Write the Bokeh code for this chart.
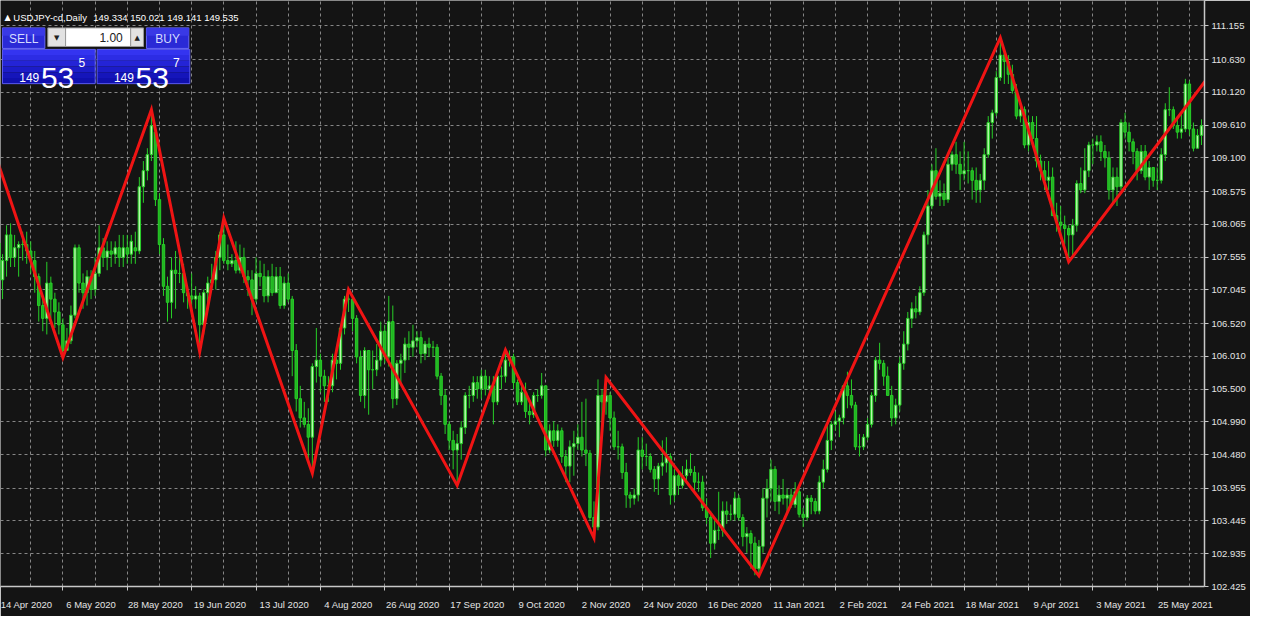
from bokeh.plotting import figure
from bokeh.models import FixedTicker, Range1d, PrintfTickFormatter, ColumnDataSource
from bokeh.core.properties import value
from bokeh.embed import file_html
from bokeh.resources import INLINE

# ---------------- data (USDJPY daily, bar index 0 = 14 Apr 2020) ----------------
opens = [
 107.77,107.20,107.50,107.90,107.55,107.70,107.75,107.75,107.65,107.50,
 107.25,106.80,106.60,107.15,106.90,106.70,106.50,106.10,106.25,106.65,
 107.70,107.15,107.00,107.25,107.05,107.30,107.70,107.55,107.65,107.60,
 107.70,107.55,107.70,107.60,107.70,107.65,108.65,108.90,109.15,109.50,
 108.45,107.75,107.10,106.85,107.35,107.30,107.30,107.00,106.95,106.90,
 106.95,106.50,107.00,107.15,107.20,107.55,107.90,107.50,107.45,107.50,
 107.35,107.55,107.25,107.20,106.90,107.30,107.25,106.95,107.25,107.00,
 107.25,106.80,107.15,106.90,106.10,105.35,105.05,104.95,104.75,105.85,
 105.95,105.70,105.55,105.55,105.95,105.90,106.45,106.90,106.90,106.60,
 106.00,105.40,106.10,105.80,105.80,105.95,106.40,106.00,106.55,105.35,
 105.90,105.95,106.20,106.15,106.25,106.30,106.05,106.20,106.15,106.15,
 105.70,105.40,104.95,104.70,104.55,104.65,104.90,105.40,105.40,105.60,
 105.50,105.70,105.50,105.55,105.30,105.70,105.70,105.95,106.00,105.60,
 105.30,105.45,105.15,105.10,105.40,105.40,105.55,104.55,104.85,104.70,
 104.85,104.45,104.30,104.60,104.65,104.75,104.55,104.50,103.50,103.35,
 105.40,105.30,105.40,105.05,104.60,104.60,104.20,103.85,103.80,103.85,
 104.55,104.45,104.45,104.25,104.10,104.30,104.35,104.45,103.85,104.15,
 104.00,104.15,104.25,104.20,104.05,104.05,103.65,103.50,103.10,103.30,
 103.30,103.60,103.55,103.55,103.80,103.50,103.20,103.25,103.10,102.70,
 103.05,103.80,103.95,104.25,103.75,103.85,103.80,103.85,103.70,103.90,
 103.55,103.50,103.80,103.75,103.60,104.05,104.25,104.70,104.95,105.00,
 105.05,105.55,105.40,105.25,104.60,104.60,104.75,104.95,105.40,105.95,
 105.90,105.70,105.40,105.05,105.25,105.90,106.20,106.60,106.75,106.70,
 107.00,107.90,108.35,108.90,108.50,108.55,108.45,109.00,109.15,109.00,
 108.85,108.90,108.90,108.75,108.60,108.75,109.15,109.65,109.80,110.35,
 110.70,110.60,110.40,110.15,109.75,109.85,109.30,109.65,109.40,109.05,
 108.90,108.75,108.80,108.20,108.10,108.05,108.00,107.90,108.05,108.70,
 108.60,108.90,109.30,109.30,109.35,109.20,109.10,108.60,108.80,108.65,
 109.65,109.50,109.35,109.20,108.90,109.20,108.80,108.95,108.75,108.75,
 109.15,109.85,109.85,109.60,109.50,109.55,110.25,109.55,109.25,109.45]
highs = [
 107.90,107.60,108.05,108.08,107.90,107.80,107.95,107.95,107.80,107.65,
 107.30,106.95,107.48,107.25,107.00,106.85,106.60,106.45,106.80,107.75,
 107.75,107.30,107.35,107.35,107.55,108.05,107.85,107.80,107.80,107.80,
 107.90,107.90,107.90,107.90,107.95,108.80,109.05,109.25,109.85,109.60,
 108.55,107.85,107.25,107.55,107.65,107.65,107.45,107.10,107.30,107.10,
 107.00,107.05,107.25,107.45,107.65,107.95,108.16,107.75,107.60,107.80,
 107.75,107.70,107.35,107.35,107.55,107.50,107.45,107.35,107.45,107.40,
 107.40,107.25,107.30,106.95,106.20,105.55,105.30,105.20,105.90,106.45,
 106.05,105.80,105.70,106.05,106.10,106.50,106.95,107.05,106.95,106.65,
 106.10,106.15,106.10,106.10,106.20,106.55,106.50,106.95,106.80,105.95,
 106.05,106.30,106.40,106.50,106.40,106.40,106.25,106.30,106.25,106.20,
 105.75,105.50,105.00,104.85,104.80,105.00,105.45,105.55,105.70,105.70,
 105.80,105.80,105.70,105.70,105.75,105.85,106.11,106.10,106.05,105.65,
 105.55,105.60,105.30,105.45,105.50,105.75,105.55,104.95,105.00,104.95,
 104.90,104.55,104.70,104.85,104.95,105.30,105.35,104.55,103.75,105.65,
 105.50,105.68,105.45,105.15,104.85,104.65,104.35,103.90,103.95,104.75,
 104.75,104.65,104.50,104.30,104.35,104.70,104.75,104.50,104.25,104.20,
 104.30,104.40,104.50,104.30,104.20,104.15,103.80,103.60,103.45,103.90,
 103.75,103.75,103.70,103.90,103.85,103.55,103.35,103.30,103.20,103.15,
 103.95,104.10,104.40,104.30,104.00,104.10,103.95,103.95,104.05,103.95,
 103.65,103.85,103.85,103.80,104.15,104.40,104.95,105.00,105.15,105.10,
 105.55,105.77,105.65,105.30,104.80,104.80,105.05,105.45,106.00,106.22,
 105.95,105.85,105.55,105.35,106.00,106.40,106.70,106.85,106.95,107.10,
 107.95,108.60,109.00,109.25,108.75,108.70,109.10,109.20,109.35,109.20,
 109.35,109.20,108.95,108.95,108.85,109.25,109.75,109.85,110.45,110.97,
 110.75,110.70,110.55,110.25,110.00,109.90,109.75,109.75,109.75,109.15,
 109.05,109.05,108.95,108.40,108.35,108.20,108.05,108.15,108.75,108.95,
 109.25,109.35,109.40,109.45,109.45,109.30,109.20,108.95,108.95,109.70,
 109.80,109.65,109.40,109.25,109.30,109.30,109.05,108.95,108.95,109.25,
 109.95,110.20,109.90,109.75,109.80,110.33,110.30,109.65,109.55,109.70]
lows = [
 106.95,106.90,107.25,107.40,107.40,107.25,107.50,107.45,107.30,107.00,
 106.55,106.40,106.35,106.60,106.45,106.35,105.99,106.10,106.20,106.60,
 107.00,106.75,106.80,106.90,106.95,107.25,107.40,107.35,107.40,107.45,
 107.40,107.40,107.45,107.45,107.45,107.60,108.40,108.75,109.05,108.35,
 107.60,106.95,106.55,106.60,106.75,107.15,106.85,106.75,106.70,106.75,
 106.08,106.35,106.75,107.05,107.05,107.35,107.45,107.35,107.40,107.30,
 107.30,107.15,106.95,106.65,106.85,107.10,106.85,106.85,106.95,107.00,
 106.75,106.75,106.85,105.70,105.15,104.90,104.90,104.35,104.19,105.60,
 105.45,105.30,105.30,105.45,105.65,105.80,106.35,106.70,106.40,105.90,
 105.30,105.20,105.10,105.50,105.70,105.85,105.90,105.85,105.20,105.25,
 105.60,105.75,105.95,106.00,106.15,105.90,105.95,106.00,106.00,105.65,
 105.25,104.80,104.55,104.25,104.00,104.40,104.80,105.20,105.30,105.35,
 105.35,105.40,105.35,104.95,105.25,105.50,105.60,105.85,105.50,105.25,
 105.25,105.05,104.95,105.05,105.30,105.35,104.45,104.50,104.60,104.60,
 104.35,104.05,104.05,104.15,104.55,104.45,104.30,103.45,103.18,103.30,
 104.80,105.10,104.85,104.55,104.40,104.10,103.65,103.65,103.70,103.75,
 104.25,104.30,104.20,103.90,103.85,104.15,104.20,103.70,103.75,103.85,
 103.95,104.05,104.15,103.90,103.90,103.60,103.40,102.87,103.00,103.15,
 103.20,103.40,103.45,103.45,103.45,103.05,102.95,102.70,102.60,102.59,
 102.95,103.50,103.75,103.60,103.55,103.70,103.55,103.65,103.65,103.50,
 103.35,103.45,103.55,103.55,103.55,103.95,104.20,104.55,104.85,104.75,
 104.95,105.20,105.20,104.55,104.45,104.55,104.70,104.90,105.30,105.80,
 105.55,105.40,104.92,104.95,105.15,105.80,106.10,106.45,106.60,106.65,
 106.95,107.75,108.30,108.45,108.35,108.35,108.40,108.90,108.85,108.60,
 108.75,108.70,108.45,108.40,108.40,108.60,109.10,109.40,109.75,110.30,
 110.25,110.25,110.10,109.70,109.65,109.25,109.20,109.30,108.95,108.75,
 108.60,108.60,108.20,107.95,107.85,107.75,107.48,107.55,107.95,108.55,
 108.55,108.80,109.00,109.20,109.05,108.95,108.45,108.40,108.35,108.60,
 109.40,109.20,109.00,108.75,108.85,108.75,108.60,108.65,108.60,108.70,
 109.05,109.75,109.55,109.40,109.40,109.50,109.45,109.20,109.25,109.30]
closes = [
 107.20,107.50,107.90,107.55,107.70,107.75,107.75,107.65,107.50,107.25,
 106.80,106.60,107.15,106.90,106.70,106.50,106.10,106.25,106.65,107.70,
 107.15,107.00,107.25,107.05,107.30,107.70,107.55,107.65,107.60,107.70,
 107.55,107.70,107.60,107.80,107.65,108.65,108.90,109.15,109.60,108.45,
 107.75,107.10,106.85,107.35,107.30,107.30,107.00,106.95,106.90,106.95,
 106.50,107.00,107.15,107.20,107.55,107.90,107.50,107.45,107.50,107.35,
 107.55,107.25,107.20,106.90,107.30,107.25,106.95,107.25,107.00,107.25,
 106.80,107.15,106.90,106.10,105.35,105.05,104.95,104.75,105.85,105.95,
 105.70,105.55,105.55,105.95,105.90,106.45,106.90,106.90,106.60,106.00,
 105.40,106.10,105.80,105.80,105.95,106.40,106.00,106.55,105.35,105.90,
 105.95,106.20,106.15,106.25,106.30,106.05,106.20,106.15,106.15,105.70,
 105.40,104.95,104.70,104.55,104.65,104.90,105.40,105.40,105.60,105.50,
 105.70,105.50,105.55,105.30,105.70,105.70,105.95,106.00,105.60,105.30,
 105.45,105.15,105.10,105.40,105.40,105.55,104.55,104.85,104.70,104.85,
 104.45,104.30,104.60,104.65,104.75,104.55,104.50,103.50,103.35,105.40,
 105.30,105.40,105.05,104.60,104.60,104.20,103.85,103.80,103.85,104.55,
 104.45,104.45,104.25,104.10,104.30,104.35,104.45,103.85,104.15,104.00,
 104.15,104.25,104.20,104.05,104.05,103.65,103.50,103.10,103.30,103.30,
 103.60,103.55,103.55,103.80,103.50,103.20,103.25,103.10,102.70,103.05,
 103.80,103.95,104.25,103.75,103.85,103.80,103.85,103.70,103.90,103.55,
 103.50,103.80,103.75,103.60,104.05,104.25,104.70,104.95,105.00,105.05,
 105.55,105.40,105.25,104.60,104.60,104.75,104.95,105.40,105.95,105.90,
 105.70,105.40,105.05,105.25,105.90,106.20,106.60,106.75,106.70,107.00,
 107.90,108.35,108.90,108.50,108.55,108.45,109.00,109.15,109.00,108.85,
 108.90,108.90,108.75,108.60,108.75,109.15,109.65,109.80,110.35,110.70,
 110.60,110.40,110.15,109.75,109.85,109.30,109.65,109.40,109.05,108.90,
 108.75,108.80,108.20,108.10,108.05,108.00,107.90,108.05,108.70,108.60,
 108.90,109.30,109.30,109.35,109.20,109.10,108.60,108.80,108.65,109.65,
 109.50,109.35,109.20,108.90,109.20,108.80,108.95,108.75,108.75,109.15,
 109.85,109.85,109.60,109.50,109.55,110.25,109.55,109.25,109.45,109.60]

# ZigZag vertices (bar index, price)
zigzag_idx = [0, 16, 38, 50, 56, 78, 87, 114, 126, 148, 151, 189, 249, 266, 300]
zigzag_price = [109.00, 105.99, 109.85, 106.08, 108.16, 104.19, 107.05, 104.00, 106.11,
                103.18, 105.68, 102.59, 110.97, 107.48, 110.30]

# time-axis labels, one every 16 bars starting at bar 0
date_labels = ["14 Apr 2020", "6 May 2020", "28 May 2020", "19 Jun 2020", "13 Jul 2020",
               "4 Aug 2020", "26 Aug 2020", "17 Sep 2020", "9 Oct 2020", "2 Nov 2020",
               "24 Nov 2020", "16 Dec 2020", "11 Jan 2021", "2 Feb 2021", "24 Feb 2021",
               "18 Mar 2021", "9 Apr 2021", "3 May 2021", "25 May 2021"]
price_ticks = [111.155, 110.630, 110.120, 109.610, 109.100, 108.575, 108.065, 107.555,
               107.045, 106.520, 106.010, 105.500, 104.990, 104.480, 103.955, 103.445,
               102.935, 102.425]

header_symbol = "USDJPY-cd,Daily"
header_quote = "149.334 150.021 149.141 149.535"
lot_size = "1.00"
sell_parts = ["149", "53", "5"]
buy_parts = ["149", "53", "7"]

# ---------------- layout / style ----------------
W, H = 1250, 616
X0, X1 = 0.49, 299.75
Y0, Y1 = 102.425, 111.55
LABEL_STEP = 16
GRID_STEP = 8
LABEL_SHIFT = 7
BG = "#141414"
AXIS_C = "#c8c8c8"
TXT_C = "#e4e4e4"
WICK = "#27cf27"
BULL_FILL = "#b9f7ad"
BEAR_FILL = "#23b323"
FONT = "Liberation Sans"

p = figure(width=W, height=H, x_range=Range1d(X0, X1), y_range=Range1d(Y0, Y1),
           y_axis_location="right", output_backend="svg", toolbar_location=None,
           min_border_left=0, min_border_top=0, min_border_right=46, min_border_bottom=30)
p.background_fill_color = BG
p.border_fill_color = BG
p.outline_line_color = None

# y axis (right)
ya = p.yaxis[0]
ya.ticker = FixedTicker(ticks=price_ticks, minor_ticks=[])
ya.formatter = PrintfTickFormatter(format="%.3f")
ya.axis_line_color = AXIS_C
ya.axis_line_width = 1.5
ya.major_tick_line_color = AXIS_C
ya.major_tick_out = 4
ya.major_tick_in = 0
ya.minor_tick_line_color = None
ya.major_label_text_color = TXT_C
ya.major_label_text_font = FONT
ya.major_label_text_font_size = "9.5px"
ya.major_label_standoff = 3

# x axis: labels placed just right of their tick (major ticks hidden, minor ticks mark the dates)
n_lab = len(date_labels)
date_ticks = [i * LABEL_STEP for i in range(n_lab)]
lab_ticks = [t + LABEL_SHIFT for t in date_ticks]
xa = p.xaxis[0]
xa.ticker = FixedTicker(ticks=lab_ticks, minor_ticks=date_ticks)
xa.major_label_overrides = {t: s for t, s in zip(lab_ticks, date_labels)}
xa.axis_line_color = AXIS_C
xa.axis_line_width = 1.5
xa.major_tick_line_color = None
xa.minor_tick_line_color = AXIS_C
xa.minor_tick_out = 4
xa.minor_tick_in = 0
xa.major_label_text_color = TXT_C
xa.major_label_text_font = FONT
xa.major_label_text_font_size = "9.5px"
xa.major_label_standoff = 6

# grids
p.xgrid[0].ticker = FixedTicker(ticks=list(range(0, 300, GRID_STEP)))
p.ygrid[0].ticker = FixedTicker(ticks=price_ticks)
for g in (p.xgrid[0], p.ygrid[0]):
    g.grid_line_color = "#9a9a9a"
    g.grid_line_dash = "3 3"
    g.grid_line_width = 1
    g.grid_line_alpha = 0.85

# candles
n = len(closes)
xs = list(range(n))
src = ColumnDataSource(dict(
    x=xs, o=opens, h=highs, l=lows, c=closes,
    top=[max(a, b) for a, b in zip(opens, closes)],
    bot=[min(a, b) for a, b in zip(opens, closes)],
    fill=[BULL_FILL if c >= o else BEAR_FILL for o, c in zip(opens, closes)],
))
p.segment(x0="x", y0="h", x1="x", y1="l", source=src, line_color=WICK, line_width=1)
p.vbar(x="x", width=0.6, top="top", bottom="bot", source=src,
       fill_color="fill", line_color=WICK, line_width=1)

# zigzag
p.line(zigzag_idx, zigzag_price, line_color="#f01414", line_width=3, line_join="miter")

# ---------------- trade panel (positions in reference pixels) ----------------
REF_FW, REF_FH = 1221.0, 599.0
def dx(px):
    return X0 + px / REF_FW * (X1 - X0)
def dy(py):
    return Y1 - py / REF_FH * (Y1 - Y0)

def box(l, r, t, b, fill, line):
    p.quad(left=dx(l), right=dx(r), top=dy(t), bottom=dy(b), fill_color=fill, line_color=line, line_width=1)

def txt(x, y, s, size, color="#ffffff", align="left", baseline="middle", font=FONT):
    p.text(x=[dx(x)], y=[dy(y)], text=[s], text_font=value(font), text_font_size=value(size),
           text_color=color, text_align=align, text_baseline=baseline)

# header
txt(4, 17, "▲", "8px", font="DejaVu Sans")
txt(13, 17, header_symbol, "9.5px")
txt(94, 17, header_quote, "9.5px")

# buttons
box(2, 45, 28, 49, "#2a2ad6", "#6a6afa")
box(2, 45, 28, 36, "#3939e6", None)
box(148, 191, 28, 49, "#2a2ad6", "#6a6afa")
box(148, 191, 28, 36, "#3939e6", None)
txt(23.5, 39, "SELL", "12px", color="#d4dbff", align="center")
txt(169.5, 39, "BUY", "12px", color="#d4dbff", align="center")
box(48, 66, 28, 47, "#e2e2e2", "#9a9a9a")
box(66, 132, 28, 47, "#ffffff", "#9a9a9a")
box(132, 145, 28, 47, "#e2e2e2", "#9a9a9a")
txt(57, 38, "▼", "7px", color="#202020", align="center", font="DejaVu Sans")
txt(138.5, 38, "▲", "7px", color="#202020", align="center", font="DejaVu Sans")
txt(124, 38, lot_size, "12px", color="#202020", align="right")

# price boxes with a simple vertical shade
shades = ["#3434f0", "#2c2ce4", "#2424d6", "#1c1cc8", "#1515ba", "#1010ae"]
for (l, r) in [(2, 96), (98, 192)]:
    band = (85 - 50) / len(shades)
    for k, col in enumerate(shades):
        box(l, r, 50 + k * band, 50 + (k + 1) * band, col, None)
    box(l, r, 50, 85, None, "#5a5af0")

for x0, parts in [(0, sell_parts), (96, buy_parts)]:
    txt(x0 + 19, 79, parts[0], "12px", baseline="alphabetic")
    txt(x0 + 41, 79, parts[1], "30px", baseline="alphabetic")
    txt(x0 + 79, 63, parts[2], "12px", baseline="alphabetic")

open("out.html", "w").write(file_html(p, INLINE))
